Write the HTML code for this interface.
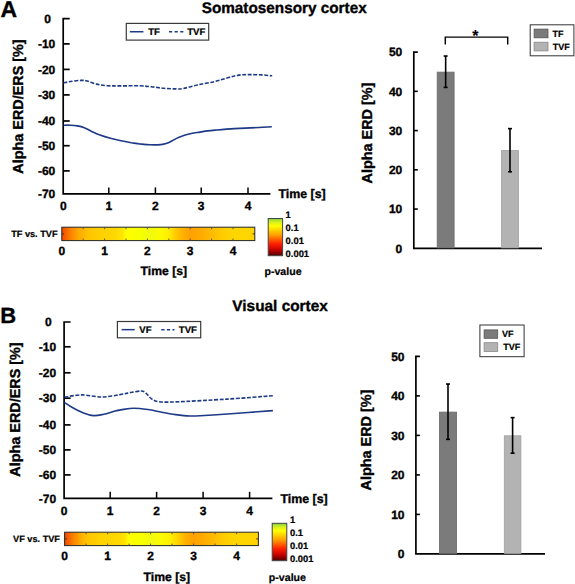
<!DOCTYPE html>
<html><head><meta charset="utf-8"><style>
html,body{margin:0;padding:0;background:#fff;}
svg{display:block;}
text{font-family:"Liberation Sans",sans-serif;font-weight:bold;fill:#000;text-rendering:geometricPrecision;stroke:#000;stroke-width:0.35px;}
</style></head><body>
<svg width="575" height="584" viewBox="0 0 575 584">
<defs>
<linearGradient id="cbar" x1="0" y1="0" x2="0" y2="1">
<stop offset="0" stop-color="#7fd040"/>
<stop offset="0.1" stop-color="#d8f020"/>
<stop offset="0.2" stop-color="#ffff00"/>
<stop offset="0.45" stop-color="#ff9c00"/>
<stop offset="0.68" stop-color="#ff2000"/>
<stop offset="0.85" stop-color="#c00000"/>
<stop offset="1" stop-color="#500000"/>
</linearGradient>
<linearGradient id="hmA" x1="0" y1="0" x2="1" y2="0">
<stop offset="0.0000" stop-color="#ee4a00"/>
<stop offset="0.0129" stop-color="#f45800"/>
<stop offset="0.0440" stop-color="#fb8000"/>
<stop offset="0.0854" stop-color="#ffa800"/>
<stop offset="0.1267" stop-color="#ffc000"/>
<stop offset="0.1992" stop-color="#ffd000"/>
<stop offset="0.2768" stop-color="#ffd800"/>
<stop offset="0.3130" stop-color="#ffe400"/>
<stop offset="0.3337" stop-color="#ffff00"/>
<stop offset="0.4061" stop-color="#f8ff00"/>
<stop offset="0.4578" stop-color="#f0fa10"/>
<stop offset="0.5096" stop-color="#fcfc00"/>
<stop offset="0.5510" stop-color="#ffee00"/>
<stop offset="0.5923" stop-color="#ffc800"/>
<stop offset="0.6286" stop-color="#ffb000"/>
<stop offset="0.6648" stop-color="#ffa000"/>
<stop offset="0.7165" stop-color="#ffaa00"/>
<stop offset="0.7682" stop-color="#ffb800"/>
<stop offset="0.8303" stop-color="#ffcc00"/>
<stop offset="0.8976" stop-color="#ffd600"/>
<stop offset="1.0000" stop-color="#ffd400"/>
</linearGradient>
<linearGradient id="hmB" x1="0" y1="0" x2="1" y2="0">
<stop offset="0.0000" stop-color="#ee4a00"/>
<stop offset="0.0124" stop-color="#f45800"/>
<stop offset="0.0433" stop-color="#fb8000"/>
<stop offset="0.0795" stop-color="#ffa800"/>
<stop offset="0.1156" stop-color="#ffc400"/>
<stop offset="0.1827" stop-color="#ffd200"/>
<stop offset="0.2755" stop-color="#ffd800"/>
<stop offset="0.3117" stop-color="#ffe400"/>
<stop offset="0.3297" stop-color="#ffff00"/>
<stop offset="0.3994" stop-color="#f8ff00"/>
<stop offset="0.4510" stop-color="#f2fa10"/>
<stop offset="0.5026" stop-color="#fcfc00"/>
<stop offset="0.5490" stop-color="#ffee00"/>
<stop offset="0.5955" stop-color="#ffc800"/>
<stop offset="0.6264" stop-color="#ffb000"/>
<stop offset="0.6625" stop-color="#ffa000"/>
<stop offset="0.7141" stop-color="#ffaa00"/>
<stop offset="0.7606" stop-color="#ffb800"/>
<stop offset="0.8225" stop-color="#ffcc00"/>
<stop offset="0.8844" stop-color="#ffd600"/>
<stop offset="1.0000" stop-color="#ffd200"/>
</linearGradient>
</defs>
<text x="0.6" y="16.7" font-size="23" text-anchor="start" >A</text>
<text x="284.2" y="13.4" font-size="15.3" text-anchor="middle" >Somatosensory cortex</text>
<path d="M69.7,18.56 H63.2 V193.9 H270.4" fill="none" stroke="#000" stroke-width="1.7"/>
<line x1="63.2" y1="43.9" x2="69.7" y2="43.9" stroke="#000" stroke-width="1.7"/>
<line x1="63.2" y1="69.4" x2="69.7" y2="69.4" stroke="#000" stroke-width="1.7"/>
<line x1="63.2" y1="94.9" x2="69.7" y2="94.9" stroke="#000" stroke-width="1.7"/>
<line x1="63.2" y1="121.0" x2="69.7" y2="121.0" stroke="#000" stroke-width="1.7"/>
<line x1="63.2" y1="145.7" x2="69.7" y2="145.7" stroke="#000" stroke-width="1.7"/>
<line x1="63.2" y1="170.9" x2="69.7" y2="170.9" stroke="#000" stroke-width="1.7"/>
<text x="47.7" y="22.759999999999998" font-size="12" text-anchor="middle" >0</text>
<text x="55.3" y="48.1" font-size="12" text-anchor="end" >-10</text>
<text x="55.3" y="73.60000000000001" font-size="12" text-anchor="end" >-20</text>
<text x="55.3" y="99.10000000000001" font-size="12" text-anchor="end" >-30</text>
<text x="55.3" y="125.2" font-size="12" text-anchor="end" >-40</text>
<text x="55.3" y="149.89999999999998" font-size="12" text-anchor="end" >-50</text>
<text x="55.3" y="175.1" font-size="12" text-anchor="end" >-60</text>
<text x="55.3" y="198.1" font-size="12" text-anchor="end" >-70</text>
<text x="63.3" y="210.4" font-size="12" text-anchor="middle" >0</text>
<line x1="108.8" y1="193.9" x2="108.8" y2="187.4" stroke="#000" stroke-width="1.5"/>
<text x="108.8" y="210.4" font-size="12" text-anchor="middle" >1</text>
<line x1="155.4" y1="193.9" x2="155.4" y2="187.4" stroke="#000" stroke-width="1.5"/>
<text x="155.4" y="210.4" font-size="12" text-anchor="middle" >2</text>
<line x1="201.2" y1="193.9" x2="201.2" y2="187.4" stroke="#000" stroke-width="1.5"/>
<text x="201.2" y="210.4" font-size="12" text-anchor="middle" >3</text>
<line x1="248.0" y1="193.9" x2="248.0" y2="187.4" stroke="#000" stroke-width="1.5"/>
<text x="248.0" y="210.4" font-size="12" text-anchor="middle" >4</text>
<text x="278.4" y="198.20000000000002" font-size="12.4" text-anchor="start" >Time [s]</text>
<text x="0" y="0" font-size="14.4" text-anchor="middle" transform="translate(23.0,106.5) rotate(-90)">Alpha ERD/ERS [%]</text>
<path d="M63.5,125.2 C64.7,125.2 68.1,125.1 70.4,125.2 C72.7,125.3 75.1,125.5 77.4,125.9 C79.7,126.3 82.0,126.8 84.3,127.7 C86.6,128.6 88.7,130.0 91.3,131.2 C93.9,132.4 96.8,133.9 100.0,135.1 C103.2,136.3 106.9,137.4 110.4,138.3 C113.9,139.2 117.4,140.0 120.9,140.7 C124.4,141.4 128.1,142.1 131.3,142.7 C134.5,143.2 136.8,143.7 140.0,144.0 C143.2,144.3 146.9,144.7 150.4,144.8 C153.9,144.9 158.3,144.8 160.9,144.6 C163.5,144.4 164.4,144.2 166.1,143.6 C167.8,143.0 169.6,142.1 171.3,141.2 C173.0,140.3 174.8,139.2 176.5,138.4 C178.2,137.6 179.9,136.9 181.7,136.3 C183.4,135.7 185.2,135.1 187.0,134.6 C188.8,134.1 190.0,133.7 192.2,133.3 C194.4,132.9 197.5,132.5 200.0,132.1 C202.5,131.7 204.7,131.2 207.2,130.9 C209.7,130.6 210.5,130.5 215.0,130.1 C219.5,129.7 227.0,129.0 234.3,128.6 C241.6,128.2 252.4,127.8 258.7,127.5 C264.9,127.2 269.6,126.9 271.8,126.8" fill="none" stroke="#1d3a86" stroke-width="1.6"/>
<path d="M63.5,83.0 C64.7,82.8 67.5,81.9 70.4,81.5 C73.3,81.1 78.1,80.5 80.9,80.4 C83.7,80.3 84.5,80.4 87.1,81.0 C89.7,81.6 93.2,83.3 96.5,84.1 C99.8,84.9 103.1,85.4 107.0,85.7 C110.9,86.0 114.6,85.9 120.0,85.9 C125.4,85.9 134.1,85.7 139.3,85.8 C144.6,85.9 147.4,86.4 151.5,86.8 C155.6,87.2 159.6,87.9 163.7,88.3 C167.8,88.7 172.7,88.9 175.9,88.9 C179.2,88.9 179.6,89.2 183.2,88.5 C186.8,87.8 192.1,86.2 197.4,85.0 C202.7,83.8 209.6,82.8 214.8,81.5 C220.0,80.2 224.6,78.6 228.7,77.5 C232.8,76.4 235.6,75.6 239.1,75.1 C242.6,74.6 245.8,74.6 249.6,74.6 C253.4,74.6 257.9,74.7 261.7,74.9 C265.5,75.1 270.4,75.7 272.2,75.8" fill="none" stroke="#1d3a86" stroke-width="1.6" stroke-dasharray="3.9,1.6"/>
<rect x="126.3" y="23.4" width="82.39999999999999" height="16.700000000000003" fill="#fff" stroke="#3a3a3a" stroke-width="1.2"/>
<path d="M129.8,31.75 H143.4" stroke="#1d3a86" stroke-width="1.5"/>
<text x="148.2" y="35.15" font-size="9.6" text-anchor="start" style="stroke-width:0.22px" >TF</text>
<path d="M169,31.75 H183.5" stroke="#1d3a86" stroke-width="1.5" stroke-dasharray="3.2,2.4"/>
<text x="187.2" y="35.15" font-size="9.6" text-anchor="start" style="stroke-width:0.22px" >TVF</text>
<rect x="61.8" y="227.2" width="193.0" height="13.400000000000006" fill="url(#hmA)" stroke="#262626" stroke-width="1"/>
<line x1="83.19999999999999" y1="227.2" x2="83.19999999999999" y2="229.2" stroke="#444" stroke-width="0.9"/>
<line x1="83.19999999999999" y1="240.6" x2="83.19999999999999" y2="238.6" stroke="#444" stroke-width="0.9"/>
<line x1="104.6" y1="227.2" x2="104.6" y2="229.2" stroke="#444" stroke-width="0.9"/>
<line x1="104.6" y1="240.6" x2="104.6" y2="238.6" stroke="#444" stroke-width="0.9"/>
<line x1="125.99999999999999" y1="227.2" x2="125.99999999999999" y2="229.2" stroke="#444" stroke-width="0.9"/>
<line x1="125.99999999999999" y1="240.6" x2="125.99999999999999" y2="238.6" stroke="#444" stroke-width="0.9"/>
<line x1="147.39999999999998" y1="227.2" x2="147.39999999999998" y2="229.2" stroke="#444" stroke-width="0.9"/>
<line x1="147.39999999999998" y1="240.6" x2="147.39999999999998" y2="238.6" stroke="#444" stroke-width="0.9"/>
<line x1="168.8" y1="227.2" x2="168.8" y2="229.2" stroke="#444" stroke-width="0.9"/>
<line x1="168.8" y1="240.6" x2="168.8" y2="238.6" stroke="#444" stroke-width="0.9"/>
<line x1="190.2" y1="227.2" x2="190.2" y2="229.2" stroke="#444" stroke-width="0.9"/>
<line x1="190.2" y1="240.6" x2="190.2" y2="238.6" stroke="#444" stroke-width="0.9"/>
<line x1="211.59999999999997" y1="227.2" x2="211.59999999999997" y2="229.2" stroke="#444" stroke-width="0.9"/>
<line x1="211.59999999999997" y1="240.6" x2="211.59999999999997" y2="238.6" stroke="#444" stroke-width="0.9"/>
<line x1="233.0" y1="227.2" x2="233.0" y2="229.2" stroke="#444" stroke-width="0.9"/>
<line x1="233.0" y1="240.6" x2="233.0" y2="238.6" stroke="#444" stroke-width="0.9"/>
<line x1="61.8" y1="233.89999999999998" x2="64.0" y2="233.89999999999998" stroke="#333" stroke-width="1.0"/>
<line x1="254.8" y1="233.89999999999998" x2="252.60000000000002" y2="233.89999999999998" stroke="#333" stroke-width="1.0"/>
<text x="57.6" y="237.2" font-size="9.2" text-anchor="end" style="stroke-width:0.22px" >TF vs. TVF</text>
<text x="61.8" y="255.0" font-size="12" text-anchor="middle" >0</text>
<text x="104.6" y="255.0" font-size="12" text-anchor="middle" >1</text>
<text x="147.39999999999998" y="255.0" font-size="12" text-anchor="middle" >2</text>
<text x="190.2" y="255.0" font-size="12" text-anchor="middle" >3</text>
<text x="233.0" y="255.0" font-size="12" text-anchor="middle" >4</text>
<text x="163.8" y="274.8" font-size="12.2" text-anchor="middle" >Time [s]</text>
<rect x="268.2" y="218.5" width="14.400000000000034" height="37.19999999999999" fill="url(#cbar)" stroke="#444" stroke-width="1"/>
<text x="285.6" y="217.7" font-size="9.4" text-anchor="start" style="stroke-width:0.22px" >1</text>
<text x="285.6" y="230.7" font-size="9.4" text-anchor="start" style="stroke-width:0.22px" >0.1</text>
<text x="285.6" y="243.6" font-size="9.4" text-anchor="start" style="stroke-width:0.22px" >0.01</text>
<text x="285.6" y="257.0" font-size="9.4" text-anchor="start" style="stroke-width:0.22px" >0.001</text>
<text x="283.0" y="274.8" font-size="10.6" text-anchor="middle" style="stroke-width:0.22px" >p-value</text>
<path d="M417.8,52.1 H413.8 V248.3 H542" fill="none" stroke="#000" stroke-width="1.7"/>
<line x1="413.8" y1="91.34" x2="417.8" y2="91.34" stroke="#000" stroke-width="1.6"/>
<line x1="413.8" y1="130.58" x2="417.8" y2="130.58" stroke="#000" stroke-width="1.6"/>
<line x1="413.8" y1="169.82" x2="417.8" y2="169.82" stroke="#000" stroke-width="1.6"/>
<line x1="413.8" y1="209.06" x2="417.8" y2="209.06" stroke="#000" stroke-width="1.6"/>
<text x="402.3" y="56.4" font-size="12" text-anchor="end" >50</text>
<text x="402.3" y="95.64" font-size="12" text-anchor="end" >40</text>
<text x="402.3" y="134.88000000000002" font-size="12" text-anchor="end" >30</text>
<text x="402.3" y="174.12" font-size="12" text-anchor="end" >20</text>
<text x="402.3" y="213.36" font-size="12" text-anchor="end" >10</text>
<text x="402.3" y="252.60000000000002" font-size="12" text-anchor="end" >0</text>
<text x="0" y="0" font-size="14.4" text-anchor="middle" transform="translate(372.3,133) rotate(-90)">Alpha ERD [%]</text>
<rect x="437.2" y="72.12" width="16.899999999999988" height="175.78" fill="#7b7b7b" stroke="#6a6a6a" stroke-width="0.8"/>
<line x1="445.65" y1="56.024" x2="445.65" y2="87.416" stroke="#000" stroke-width="1.6"/>
<line x1="443.65" y1="56.024" x2="447.65" y2="56.024" stroke="#000" stroke-width="1.6"/>
<line x1="443.65" y1="87.416" x2="447.65" y2="87.416" stroke="#000" stroke-width="1.6"/>
<rect x="501.4" y="150.60000000000002" width="17.2" height="97.3" fill="#b3b3b3" stroke="#a0a0a0" stroke-width="0.8"/>
<line x1="510.0" y1="128.618" x2="510.0" y2="171.782" stroke="#000" stroke-width="1.6"/>
<line x1="508.0" y1="128.618" x2="512.0" y2="128.618" stroke="#000" stroke-width="1.6"/>
<line x1="508.0" y1="171.782" x2="512.0" y2="171.782" stroke="#000" stroke-width="1.6"/>
<rect x="530.2" y="24.8" width="43.69999999999993" height="30.999999999999996" fill="#fff" stroke="#333" stroke-width="1"/>
<rect x="534.1" y="29.1" width="13.899999999999977" height="8.699999999999996" fill="#7b7b7b" stroke="#555" stroke-width="0.8"/>
<text x="552.4" y="36.650000000000006" font-size="9" text-anchor="start" style="stroke-width:0.22px" >TF</text>
<rect x="534.1" y="42.2" width="13.899999999999977" height="8.699999999999996" fill="#b3b3b3" stroke="#888" stroke-width="0.8"/>
<text x="552.8" y="49.75" font-size="9" text-anchor="start" style="stroke-width:0.22px" >TVF</text>
<path d="M445.3,44.5 V37.1 H507.7 V44.5" fill="none" stroke="#000" stroke-width="1.45"/>
<text x="475.4" y="40.9" font-size="16" text-anchor="middle" style="stroke-width:0.1px">*</text>
<text x="0.3" y="323.0" font-size="22" text-anchor="start" >B</text>
<text x="280.1" y="311.4" font-size="15.4" text-anchor="middle" >Visual cortex</text>
<path d="M70.6,322.0 H64.1 V498.3 H272.4" fill="none" stroke="#000" stroke-width="1.7"/>
<line x1="64.1" y1="346.8" x2="70.6" y2="346.8" stroke="#000" stroke-width="1.7"/>
<line x1="64.1" y1="372.8" x2="70.6" y2="372.8" stroke="#000" stroke-width="1.7"/>
<line x1="64.1" y1="398.2" x2="70.6" y2="398.2" stroke="#000" stroke-width="1.7"/>
<line x1="64.1" y1="424.9" x2="70.6" y2="424.9" stroke="#000" stroke-width="1.7"/>
<line x1="64.1" y1="449.9" x2="70.6" y2="449.9" stroke="#000" stroke-width="1.7"/>
<line x1="64.1" y1="474.9" x2="70.6" y2="474.9" stroke="#000" stroke-width="1.7"/>
<text x="48.3" y="326.2" font-size="12" text-anchor="middle" >0</text>
<text x="56.2" y="351.0" font-size="12" text-anchor="end" >-10</text>
<text x="56.2" y="377.0" font-size="12" text-anchor="end" >-20</text>
<text x="56.2" y="402.4" font-size="12" text-anchor="end" >-30</text>
<text x="56.2" y="429.09999999999997" font-size="12" text-anchor="end" >-40</text>
<text x="56.2" y="454.09999999999997" font-size="12" text-anchor="end" >-50</text>
<text x="56.2" y="479.09999999999997" font-size="12" text-anchor="end" >-60</text>
<text x="56.2" y="502.5" font-size="12" text-anchor="end" >-70</text>
<text x="64.2" y="514.8" font-size="12" text-anchor="middle" >0</text>
<line x1="110.2" y1="498.3" x2="110.2" y2="491.8" stroke="#000" stroke-width="1.5"/>
<text x="110.2" y="514.8" font-size="12" text-anchor="middle" >1</text>
<line x1="156.6" y1="498.3" x2="156.6" y2="491.8" stroke="#000" stroke-width="1.5"/>
<text x="156.6" y="514.8" font-size="12" text-anchor="middle" >2</text>
<line x1="203.1" y1="498.3" x2="203.1" y2="491.8" stroke="#000" stroke-width="1.5"/>
<text x="203.1" y="514.8" font-size="12" text-anchor="middle" >3</text>
<line x1="249.6" y1="498.3" x2="249.6" y2="491.8" stroke="#000" stroke-width="1.5"/>
<text x="249.6" y="514.8" font-size="12" text-anchor="middle" >4</text>
<text x="280.4" y="502.6" font-size="12.4" text-anchor="start" >Time [s]</text>
<text x="0" y="0" font-size="14.4" text-anchor="middle" transform="translate(20.0,409.5) rotate(-90)">Alpha ERD/ERS [%]</text>
<path d="M64.3,402.3 C65.7,403.2 69.3,405.8 72.4,407.5 C75.5,409.2 79.4,411.3 82.9,412.7 C86.4,414.1 89.8,415.3 93.3,415.6 C96.8,415.9 100.2,415.0 103.7,414.3 C107.2,413.6 111.2,412.0 114.2,411.2 C117.2,410.4 118.7,410.1 122.0,409.6 C125.3,409.1 129.6,408.3 133.9,408.3 C138.2,408.3 143.2,408.9 147.8,409.5 C152.4,410.1 157.0,411.3 161.7,412.2 C166.3,413.1 171.0,414.0 175.7,414.6 C180.3,415.2 185.5,415.8 189.6,416.0 C193.7,416.2 193.7,416.0 200.0,415.7 C206.3,415.4 215.2,414.9 227.4,414.0 C239.6,413.1 265.3,411.2 272.9,410.6" fill="none" stroke="#1d3a86" stroke-width="1.6"/>
<path d="M64.5,397.2 C67.4,396.8 75.7,394.9 81.9,394.9 C88.1,394.9 95.4,397.1 101.7,397.0 C108.0,396.9 115.2,395.4 120.0,394.6 C124.8,393.9 127.2,393.1 130.7,392.5 C134.2,391.9 138.7,391.0 141.1,391.0 C143.5,391.0 143.6,391.2 145.3,392.5 C147.0,393.8 149.2,397.3 151.5,398.8 C153.8,400.3 154.9,401.2 158.8,401.7 C162.7,402.2 163.6,402.3 175.0,401.9 C186.4,401.5 211.1,400.1 227.4,399.1 C243.7,398.1 265.3,396.3 272.9,395.7" fill="none" stroke="#1d3a86" stroke-width="1.6" stroke-dasharray="3.9,1.6"/>
<rect x="117.4" y="321.5" width="83.29999999999998" height="16.30000000000001" fill="#fff" stroke="#3a3a3a" stroke-width="1.2"/>
<path d="M121.6,329.65 H134.7" stroke="#1d3a86" stroke-width="1.5"/>
<text x="139.3" y="333.04999999999995" font-size="9.6" text-anchor="start" style="stroke-width:0.22px" >VF</text>
<path d="M161.3,329.65 H174.5" stroke="#1d3a86" stroke-width="1.5" stroke-dasharray="3.2,2.4"/>
<text x="178.8" y="333.04999999999995" font-size="9.6" text-anchor="start" style="stroke-width:0.22px" >TVF</text>
<rect x="64.6" y="532.2" width="193.79999999999998" height="13.399999999999977" fill="url(#hmB)" stroke="#262626" stroke-width="1"/>
<line x1="86.1" y1="532.2" x2="86.1" y2="534.2" stroke="#444" stroke-width="0.9"/>
<line x1="86.1" y1="545.6" x2="86.1" y2="543.6" stroke="#444" stroke-width="0.9"/>
<line x1="107.6" y1="532.2" x2="107.6" y2="534.2" stroke="#444" stroke-width="0.9"/>
<line x1="107.6" y1="545.6" x2="107.6" y2="543.6" stroke="#444" stroke-width="0.9"/>
<line x1="129.1" y1="532.2" x2="129.1" y2="534.2" stroke="#444" stroke-width="0.9"/>
<line x1="129.1" y1="545.6" x2="129.1" y2="543.6" stroke="#444" stroke-width="0.9"/>
<line x1="150.6" y1="532.2" x2="150.6" y2="534.2" stroke="#444" stroke-width="0.9"/>
<line x1="150.6" y1="545.6" x2="150.6" y2="543.6" stroke="#444" stroke-width="0.9"/>
<line x1="172.1" y1="532.2" x2="172.1" y2="534.2" stroke="#444" stroke-width="0.9"/>
<line x1="172.1" y1="545.6" x2="172.1" y2="543.6" stroke="#444" stroke-width="0.9"/>
<line x1="193.6" y1="532.2" x2="193.6" y2="534.2" stroke="#444" stroke-width="0.9"/>
<line x1="193.6" y1="545.6" x2="193.6" y2="543.6" stroke="#444" stroke-width="0.9"/>
<line x1="215.1" y1="532.2" x2="215.1" y2="534.2" stroke="#444" stroke-width="0.9"/>
<line x1="215.1" y1="545.6" x2="215.1" y2="543.6" stroke="#444" stroke-width="0.9"/>
<line x1="236.6" y1="532.2" x2="236.6" y2="534.2" stroke="#444" stroke-width="0.9"/>
<line x1="236.6" y1="545.6" x2="236.6" y2="543.6" stroke="#444" stroke-width="0.9"/>
<line x1="64.6" y1="538.9000000000001" x2="66.8" y2="538.9000000000001" stroke="#333" stroke-width="1.0"/>
<line x1="258.4" y1="538.9000000000001" x2="256.2" y2="538.9000000000001" stroke="#333" stroke-width="1.0"/>
<text x="60.0" y="542.2" font-size="9.2" text-anchor="end" style="stroke-width:0.22px" >VF vs. TVF</text>
<text x="64.6" y="560.0" font-size="12" text-anchor="middle" >0</text>
<text x="107.6" y="560.0" font-size="12" text-anchor="middle" >1</text>
<text x="150.6" y="560.0" font-size="12" text-anchor="middle" >2</text>
<text x="193.6" y="560.0" font-size="12" text-anchor="middle" >3</text>
<text x="236.6" y="560.0" font-size="12" text-anchor="middle" >4</text>
<text x="166.8" y="580.5" font-size="12.2" text-anchor="middle" >Time [s]</text>
<rect x="272.2" y="523.3" width="14.600000000000023" height="37.40000000000009" fill="url(#cbar)" stroke="#444" stroke-width="1"/>
<text x="290.0" y="522.6" font-size="9.4" text-anchor="start" style="stroke-width:0.22px" >1</text>
<text x="290.0" y="535.6" font-size="9.4" text-anchor="start" style="stroke-width:0.22px" >0.1</text>
<text x="290.0" y="549.0" font-size="9.4" text-anchor="start" style="stroke-width:0.22px" >0.01</text>
<text x="290.0" y="561.8" font-size="9.4" text-anchor="start" style="stroke-width:0.22px" >0.001</text>
<text x="287.4" y="580.8" font-size="10.6" text-anchor="middle" style="stroke-width:0.22px" >p-value</text>
<path d="M419.9,356.4 H415.9 V553.9 H545" fill="none" stroke="#000" stroke-width="1.7"/>
<line x1="415.9" y1="395.9" x2="419.9" y2="395.9" stroke="#000" stroke-width="1.6"/>
<line x1="415.9" y1="435.4" x2="419.9" y2="435.4" stroke="#000" stroke-width="1.6"/>
<line x1="415.9" y1="474.9" x2="419.9" y2="474.9" stroke="#000" stroke-width="1.6"/>
<line x1="415.9" y1="514.4" x2="419.9" y2="514.4" stroke="#000" stroke-width="1.6"/>
<text x="404.5" y="360.7" font-size="12" text-anchor="end" >50</text>
<text x="404.5" y="400.2" font-size="12" text-anchor="end" >40</text>
<text x="404.5" y="439.7" font-size="12" text-anchor="end" >30</text>
<text x="404.5" y="479.2" font-size="12" text-anchor="end" >20</text>
<text x="404.5" y="518.6999999999999" font-size="12" text-anchor="end" >10</text>
<text x="404.5" y="558.1999999999999" font-size="12" text-anchor="end" >0</text>
<text x="0" y="0" font-size="14.4" text-anchor="middle" transform="translate(371.0,440) rotate(-90)">Alpha ERD [%]</text>
<rect x="439.4" y="412.09999999999997" width="17.2" height="141.39999999999998" fill="#7b7b7b" stroke="#6a6a6a" stroke-width="0.8"/>
<line x1="448.0" y1="384.04999999999995" x2="448.0" y2="439.34999999999997" stroke="#000" stroke-width="1.6"/>
<line x1="446.0" y1="384.04999999999995" x2="450.0" y2="384.04999999999995" stroke="#000" stroke-width="1.6"/>
<line x1="446.0" y1="439.34999999999997" x2="450.0" y2="439.34999999999997" stroke="#000" stroke-width="1.6"/>
<rect x="504.29999999999995" y="435.79999999999995" width="16.599999999999977" height="117.7" fill="#b3b3b3" stroke="#a0a0a0" stroke-width="0.8"/>
<line x1="512.5999999999999" y1="417.625" x2="512.5999999999999" y2="453.17499999999995" stroke="#000" stroke-width="1.6"/>
<line x1="510.5999999999999" y1="417.625" x2="514.5999999999999" y2="417.625" stroke="#000" stroke-width="1.6"/>
<line x1="510.5999999999999" y1="453.17499999999995" x2="514.5999999999999" y2="453.17499999999995" stroke="#000" stroke-width="1.6"/>
<rect x="479.9" y="325.0" width="44.200000000000045" height="31.69999999999999" fill="#fff" stroke="#333" stroke-width="1"/>
<rect x="484.1" y="329.9" width="13.599999999999966" height="8.400000000000034" fill="#7b7b7b" stroke="#555" stroke-width="0.8"/>
<text x="502.1" y="337.3" font-size="9" text-anchor="start" style="stroke-width:0.22px" >VF</text>
<rect x="484.1" y="342.7" width="13.599999999999966" height="8.800000000000011" fill="#b3b3b3" stroke="#888" stroke-width="0.8"/>
<text x="503.2" y="350.3" font-size="9" text-anchor="start" style="stroke-width:0.22px" >TVF</text>
</svg>
</body></html>
